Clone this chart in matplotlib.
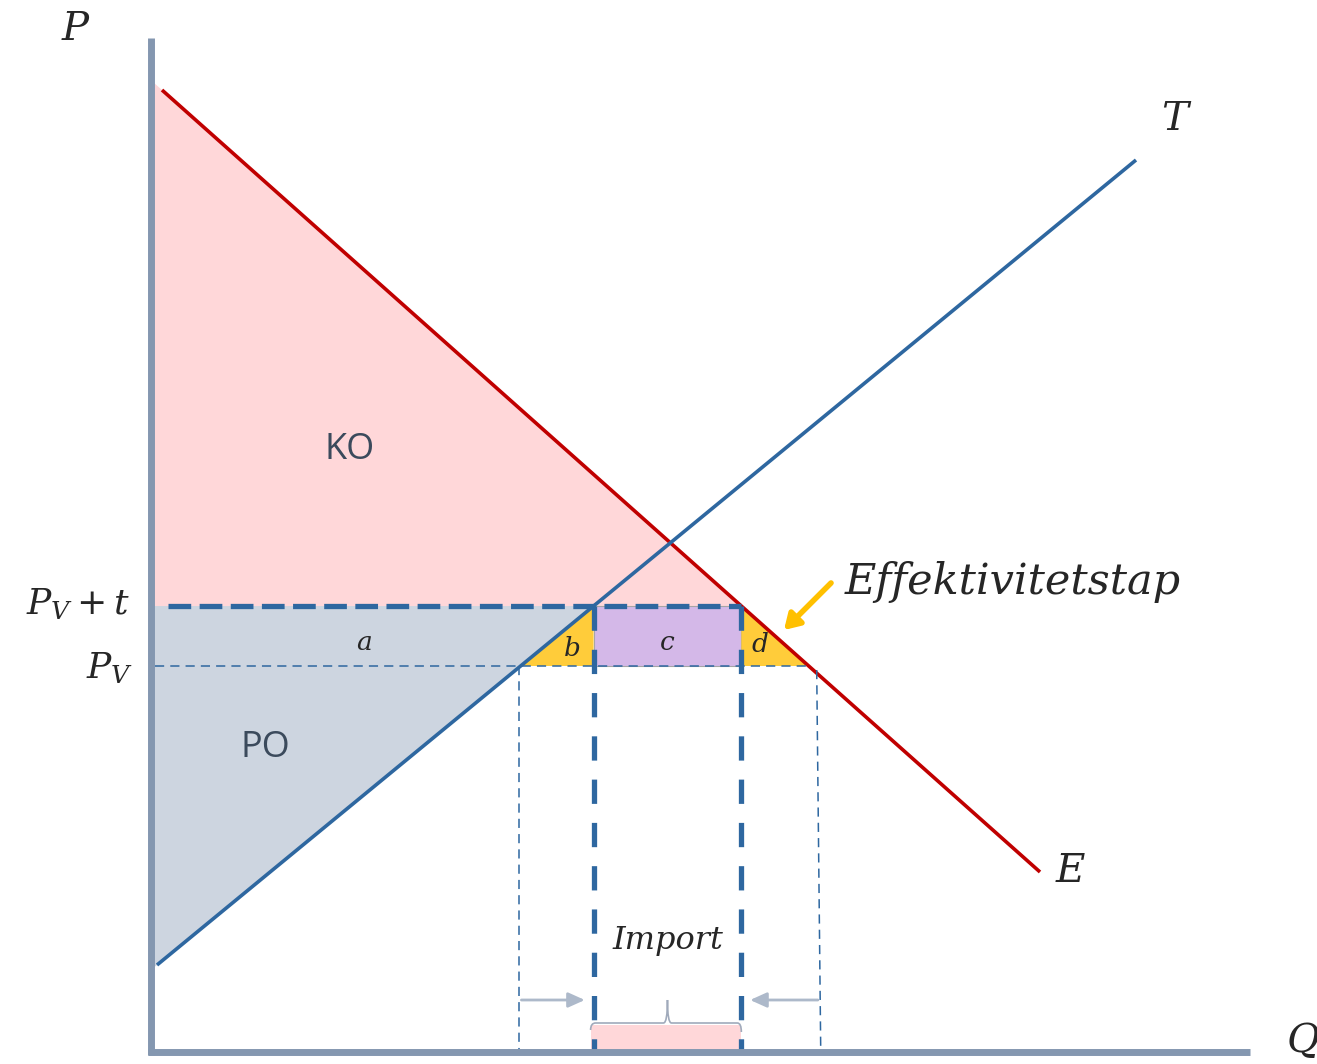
import numpy as np
import matplotlib.pyplot as plt
from matplotlib.patches import Polygon, PathPatch
from matplotlib.path import Path

# kurvene (Q, P)
demand_q = [11, 889]     # etterspørsel E
demand_p = [962, 180]
supply_q = [6, 985]      # tilbud T
supply_p = [87, 892]
p_world = 386            # P_V
tariff = 60              # t

plt.rcParams['mathtext.fontset'] = 'dejavuserif'

# lineære funksjoner fra punktene
b_d = (demand_p[0] - demand_p[1]) / (demand_q[1] - demand_q[0])
a_d = demand_p[0] + b_d * demand_q[0]
b_s = (supply_p[1] - supply_p[0]) / (supply_q[1] - supply_q[0])
a_s = supply_p[0] - b_s * supply_q[0]

p_tar = p_world + tariff
qd_w = (a_d - p_world) / b_d
qd_t = (a_d - p_tar) / b_d
qs_w = (p_world - a_s) / b_s
qs_t = (p_tar - a_s) / b_s

col_red = '#C00000'
col_blue = '#2E67A0'
col_axis = '#8497B0'
col_pink = '#FFD7D9'
col_gray = '#CDD5E0'
col_yellow = '#FFCC3A'
col_purple = '#D4B8E8'
col_txt = '#262626'

fig = plt.figure(figsize=(13.17, 10.64), dpi=100)
ax = fig.add_axes([0, 0, 1, 1])
ax.set_xlim(-151, 1166)
ax.set_ylim(-12, 1052)
ax.axis('off')

# flater
ax.add_patch(Polygon([(0, a_d), (qd_t, p_tar), (0, p_tar)], closed=True,
                     fc=col_pink, ec='none', zorder=1))
ax.add_patch(Polygon([(0, p_tar), (qs_t, p_tar), (0, a_s)], closed=True,
                     fc=col_gray, ec='none', zorder=1))
ax.add_patch(Polygon([(qs_w, p_world), (qs_t, p_tar), (qs_t, p_world)], closed=True,
                     fc=col_yellow, ec='none', zorder=1))
ax.add_patch(Polygon([(qs_t, p_world), (qd_t, p_world), (qd_t, p_tar), (qs_t, p_tar)],
                     closed=True, fc=col_purple, ec='#A6A6A6', lw=0.8, zorder=1))
ax.add_patch(Polygon([(qd_t, p_tar), (qd_w, p_world), (qd_t, p_world)], closed=True,
                     fc=col_yellow, ec='none', zorder=1))

# kurver
ax.plot(demand_q, demand_p, color=col_red, lw=2.6, zorder=3, solid_capstyle='butt')
ax.plot(supply_q, supply_p, color=col_blue, lw=2.6, zorder=3, solid_capstyle='butt')

# stiplede linjer
ax.plot([17, qd_t], [p_tar, p_tar], color=col_blue, lw=3.8, dashes=(4.3, 1.6), zorder=4)
for q in [qs_t, qd_t]:
    ax.plot([q, q], [p_tar, 0], color=col_blue, lw=3.8, dashes=(4.6, 3.6), zorder=4)
ax.plot([4, qd_w], [p_world, p_world], color=col_blue, lw=1.1, dashes=(6, 4), zorder=4)
ax.plot([qs_w - 2, qs_w - 2], [p_world, 3], color=col_blue, lw=1.1, dashes=(6, 4), zorder=4)
ax.plot([qd_w + 8, qd_w + 12], [p_world - 4, 3], color=col_blue, lw=1.1, dashes=(6, 4), zorder=4)

# import-klamme
ax.add_patch(Polygon([(qs_t - 3, 3), (qd_t, 3), (qd_t, 27), (qs_t - 3, 27)], closed=True,
                     fc=col_pink, ec='none', zorder=2))
mid = (qs_t + qd_t) / 2
verts = [(qs_t - 3, 22), (qs_t - 3, 29), (qs_t + 2, 29), (mid - 4, 29), (mid, 29),
         (mid, 52), (mid, 29), (mid + 4, 29), (qd_t - 4, 29), (qd_t, 29), (qd_t, 20)]
codes = [Path.MOVETO, Path.CURVE3, Path.CURVE3, Path.LINETO, Path.CURVE3, Path.CURVE3,
         Path.CURVE3, Path.CURVE3, Path.LINETO, Path.CURVE3, Path.CURVE3]
ax.add_patch(PathPatch(Path(verts, codes), fc='none', ec='#A0AABB', lw=1.2, zorder=2))

# grå piler
ax.annotate('', xy=(qs_t - 6, 52), xytext=(qs_w - 2, 52), zorder=5,
            arrowprops=dict(arrowstyle='-|>,head_length=1.0,head_width=0.45',
                            color='#ADB9CA', lw=2))
ax.annotate('', xy=(qd_t + 6, 52), xytext=(qd_w + 12, 52), zorder=5,
            arrowprops=dict(arrowstyle='-|>,head_length=1.0,head_width=0.45',
                            color='#ADB9CA', lw=2))

# akser
ax.plot([0, 0], [1014, -3], color=col_axis, lw=5, solid_capstyle='butt', zorder=6)
ax.plot([-3, 1099], [0, 0], color=col_axis, lw=5, solid_capstyle='butt', zorder=6)

# effektivitetstap-pil
ax.annotate('', xy=(631, 420), xytext=(682, 471), zorder=6,
            arrowprops=dict(arrowstyle='-|>,head_length=0.9,head_width=0.55',
                            color='#FFC000', lw=4))

serif = dict(family='DejaVu Serif', style='italic', color=col_txt)
ax.text(-76, 1022, 'P', fontsize=29, ha='center', va='center', **serif)
ax.text(1024, 932, 'T', fontsize=29, ha='center', va='center', **serif)
ax.text(919, 180, 'E', fontsize=29, ha='center', va='center', **serif)
ax.text(1152, 10, 'Q', fontsize=29, ha='center', va='center', **serif)
ax.text(-20, p_tar + 2, r'$P_V + t$', fontsize=26, ha='right', va='center', color=col_txt)
ax.text(-18, p_world - 2, r'$P_V$', fontsize=26, ha='right', va='center', color=col_txt)
ax.text(694, 470, 'Effektivitetstap', fontsize=31, ha='left', va='center', **serif)
ax.text(mid, 112, 'Import', fontsize=23, ha='center', va='center', **serif)

ax.text(213, 409, 'a', fontsize=19, ha='center', va='center', **serif)
ax.text(421, 404, 'b', fontsize=19, ha='center', va='center', **serif)
ax.text(mid, 410, 'c', fontsize=19, ha='center', va='center', **serif)
ax.text(609, 407, 'd', fontsize=19, ha='center', va='center', **serif)

sans = dict(family='Open Sans', color='#3B4A5C')
ax.text(199, 602, 'KO', fontsize=26, ha='center', va='center', **sans)
ax.text(114, 304, 'PO', fontsize=26, ha='center', va='center', **sans)

fig.savefig('out.png', dpi=100)
